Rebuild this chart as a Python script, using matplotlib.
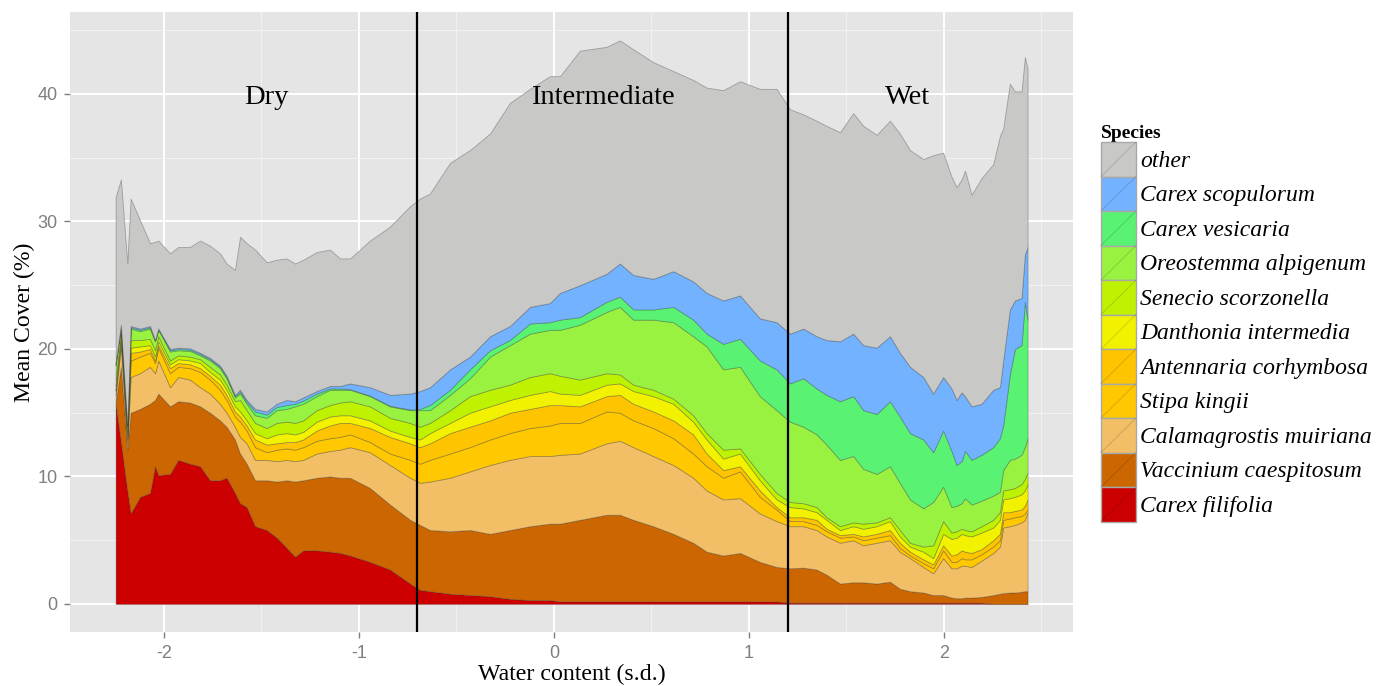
import numpy as np
import matplotlib
matplotlib.use("Agg")
import matplotlib.pyplot as plt
from matplotlib.patches import Rectangle, Patch
from matplotlib.lines import Line2D
from matplotlib.legend_handler import HandlerBase
from matplotlib.font_manager import FontProperties
from matplotlib.ticker import MultipleLocator

plt.rcParams["axes.unicode_minus"] = False

# ---------------- data ----------------
water = [-2.248, -2.221, -2.188, -2.171, -2.123, -2.072, -2.046, -2.029, -1.969, -1.927,
         -1.867, -1.815, -1.764, -1.713, -1.679, -1.636, -1.610, -1.576, -1.533, -1.473,
         -1.422, -1.371, -1.328, -1.286, -1.217, -1.149, -1.097, -1.046, -0.944, -0.841,
         -0.738, -0.687, -0.636, -0.533, -0.431, -0.328, -0.226, -0.123, -0.021, 0.031,
         0.133, 0.270, 0.338, 0.407, 0.509, 0.612, 0.714, 0.783, 0.868, 0.954,
         1.056, 1.142, 1.210, 1.279, 1.347, 1.398, 1.467, 1.535, 1.586, 1.655,
         1.723, 1.774, 1.826, 1.894, 1.945, 1.996, 2.039, 2.065, 2.091, 2.108,
         2.142, 2.193, 2.253, 2.287, 2.304, 2.338, 2.364, 2.398, 2.415, 2.429]

carex_filifolia = [15.7, 12.7, 8.9, 7.1, 8.4, 8.7, 10.8, 10.1, 10.2, 11.3,
                   11.0, 10.8, 9.7, 9.7, 9.9, 8.7, 7.9, 7.6, 6.1, 5.8,
                   5.2, 4.4, 3.7, 4.2, 4.2, 4.1, 4.0, 3.8, 3.3, 2.7,
                   1.6, 1.1, 1.0, 0.8, 0.7, 0.6, 0.4, 0.3, 0.3, 0.2,
                   0.2, 0.2, 0.2, 0.2, 0.2, 0.2, 0.2, 0.2, 0.2, 0.2,
                   0.2, 0.2, 0.1, 0.1, 0.1, 0.1, 0.1, 0.1, 0.1, 0.1,
                   0.1, 0.1, 0.1, 0.1, 0.1, 0.1, 0.1, 0.1, 0.1, 0.1,
                   0.1, 0.1, 0.0, 0.0, 0.0, 0.0, 0.0, 0.0, 0.0, 0.0]

vaccinium_caespitosum = [0.1, 5.9, 3.2, 7.9, 6.9, 7.0, 5.2, 6.4, 5.3, 4.6,
                         4.8, 4.7, 5.3, 4.7, 4.0, 4.2, 3.9, 3.4, 3.6, 3.9,
                         4.4, 5.3, 5.9, 5.5, 5.7, 5.9, 5.9, 6.1, 5.8, 5.1,
                         5.0, 5.1, 4.8, 4.9, 5.1, 4.9, 5.4, 5.8, 6.0, 6.1,
                         6.4, 6.8, 6.8, 6.4, 5.9, 5.3, 4.6, 3.9, 3.6, 3.8,
                         3.1, 2.7, 2.7, 2.75, 2.6, 2.2, 1.5, 1.6, 1.6, 1.5,
                         1.65, 1.1, 0.9, 0.8, 0.6, 0.6, 0.4, 0.35, 0.35, 0.4,
                         0.4, 0.45, 0.7, 0.8, 0.85, 0.9, 0.9, 0.95, 1.0, 1.0]

calamagrostis_muiriana = [0.6, 1.6, 0.5, 2.8, 2.8, 2.9, 2.1, 2.6, 1.5, 1.9,
                          1.8, 1.5, 1.5, 1.3, 1.1, 1.0, 1.3, 1.6, 1.6, 1.6,
                          1.6, 1.6, 1.6, 1.6, 1.9, 2.0, 2.2, 2.4, 2.8, 3.1,
                          3.3, 3.3, 3.8, 4.2, 4.6, 5.4, 5.5, 5.5, 5.3, 5.4,
                          5.2, 5.6, 5.8, 5.7, 5.5, 5.4, 5.1, 4.8, 4.4, 4.3,
                          3.8, 3.6, 3.3, 3.25, 3.1, 3.0, 3.2, 3.3, 2.9, 3.2,
                          3.25, 2.9, 2.6, 2.0, 1.7, 2.9, 2.3, 2.35, 2.55, 2.5,
                          2.4, 2.85, 3.3, 3.7, 5.15, 5.2, 5.3, 5.45, 5.6, 6.2]

stipa_kingii = [0.3, 0.5, 0.3, 1.3, 1.3, 1.1, 0.8, 1.0, 1.1, 0.8,
                0.9, 1.2, 1.1, 1.1, 1.0, 0.8, 1.2, 1.0, 1.0, 0.6,
                0.9, 0.9, 0.9, 1.0, 1.0, 1.0, 1.0, 1.0, 0.8, 0.9,
                1.4, 1.5, 1.7, 1.9, 1.9, 2.0, 2.1, 2.2, 2.4, 2.5,
                2.4, 2.5, 2.2, 2.1, 2.2, 2.1, 1.9, 1.9, 1.7, 2.1,
                1.3, 0.9, 0.4, 0.4, 0.4, 0.4, 0.4, 0.3, 0.4, 0.4,
                0.4, 0.3, 0.2, 0.3, 0.4, 0.6, 0.5, 0.5, 0.6, 0.5,
                0.6, 0.5, 0.5, 0.5, 0.6, 0.6, 0.6, 0.5, 0.5, 0.2]

antennaria_corhymbosa = [0.1, 0.3, 0.2, 0.6, 0.4, 0.3, 0.2, 0.2, 0.4, 0.3,
                         0.3, 0.3, 0.3, 0.4, 0.4, 0.4, 0.4, 0.4, 0.6, 0.6,
                         0.5, 0.5, 0.6, 0.6, 0.8, 1.0, 1.1, 0.9, 1.1, 1.3,
                         1.3, 1.3, 1.3, 1.6, 1.6, 1.5, 1.6, 1.5, 1.6, 1.4,
                         1.3, 1.2, 1.4, 1.3, 1.3, 1.4, 1.5, 1.0, 0.6, 0.4,
                         0.5, 0.2, 0.3, 0.3, 0.4, 0.2, 0.2, 0.2, 0.3, 0.3,
                         0.4, 0.4, 0.3, 0.3, 0.3, 0.4, 0.5, 0.6, 0.6, 0.6,
                         0.5, 0.4, 0.5, 0.5, 0.6, 0.5, 0.5, 0.5, 0.6, 0.8]

danthonia_intermedia = [0.3, 0.2, 0.2, 0.4, 0.4, 0.3, 0.3, 0.3, 0.3, 0.3,
                        0.3, 0.4, 0.3, 0.4, 0.4, 0.4, 0.4, 0.4, 0.5, 0.5,
                        0.7, 0.7, 0.6, 0.6, 0.7, 0.7, 0.6, 0.6, 0.6, 0.5,
                        0.5, 0.6, 0.8, 0.8, 1.1, 1.1, 1.0, 1.1, 1.1, 0.9,
                        0.9, 0.9, 0.9, 1.0, 1.2, 1.3, 1.0, 1.1, 0.9, 1.0,
                        0.8, 0.6, 0.8, 0.7, 0.6, 0.7, 0.4, 0.6, 0.6, 0.6,
                        0.7, 0.5, 0.4, 0.6, 0.5, 0.9, 1.3, 1.3, 1.3, 1.3,
                        1.3, 1.3, 1.0, 1.1, 1.0, 1.1, 1.1, 1.2, 1.2, 1.2]

senecio_scorzonella = [0.5, 0.3, 0.2, 0.6, 0.5, 0.5, 0.5, 0.4, 0.3, 0.3,
                       0.3, 0.3, 0.4, 0.4, 0.4, 0.4, 0.9, 0.8, 0.8, 0.8,
                       0.9, 0.9, 0.9, 0.9, 0.9, 0.9, 1.0, 1.1, 1.1, 1.0,
                       1.1, 1.0, 0.8, 1.0, 1.3, 1.3, 1.2, 1.4, 1.4, 1.4,
                       1.2, 0.9, 0.7, 0.5, 0.5, 0.4, 0.5, 0.5, 0.7, 0.4,
                       0.5, 0.5, 0.4, 0.4, 0.4, 0.2, 0.3, 0.3, 0.4, 0.3,
                       0.3, 0.5, 0.3, 0.4, 1.0, 1.0, 0.5, 0.5, 0.4, 0.4,
                       0.4, 0.5, 0.6, 0.6, 0.7, 0.7, 0.7, 0.8, 0.9, 0.9]

oreostemma_alpigenum = [1.1, 0.3, 0.4, 0.9, 0.7, 0.8, 0.7, 0.5, 0.7, 0.4,
                        0.45, 0.3, 0.5, 0.5, 0.5, 0.3, 0.5, 0.5, 0.6, 0.8,
                        1.0, 1.0, 1.3, 1.3, 1.1, 1.2, 1.0, 0.9, 0.8, 0.9,
                        1.0, 1.3, 1.0, 1.2, 1.4, 2.6, 3.1, 3.4, 3.4, 3.6,
                        4.3, 4.8, 5.3, 5.1, 5.5, 6.0, 6.2, 6.8, 6.3, 6.4,
                        6.1, 6.5, 6.3, 6.0, 5.7, 5.7, 5.2, 5.2, 4.3, 3.8,
                        4.0, 3.7, 3.4, 3.0, 3.4, 2.7, 2.0, 2.0, 2.0, 2.5,
                        2.1, 2.0, 1.9, 1.6, 1.6, 2.3, 2.3, 2.3, 2.5, 2.7]

carex_vesicaria = [0.1, 0.05, 0.1, 0.1, 0.1, 0.1, 0.05, 0.05, 0.1, 0.1,
                   0.1, 0.1, 0.1, 0.1, 0.1, 0.1, 0.15, 0.15, 0.3, 0.25,
                   0.25, 0.3, 0.2, 0.25, 0.2, 0.1, 0.1, 0.05, 0.05, 0.05,
                   0.05, 0.1, 0.4, 0.4, 0.7, 0.5, 0.4, 0.8, 0.6, 0.8,
                   0.6, 0.8, 0.8, 0.8, 0.8, 1.2, 1.3, 1.0, 2.0, 2.2,
                   2.8, 3.2, 3.0, 3.8, 3.6, 3.9, 4.6, 4.7, 4.6, 4.7,
                   5.1, 5.2, 5.2, 5.4, 3.9, 4.4, 4.4, 3.2, 3.3, 3.7,
                   3.5, 3.6, 3.8, 4.2, 3.5, 6.7, 8.6, 8.6, 11.4, 9.3]

carex_scopulorum = [0.1, 0.05, 0.05, 0.1, 0.1, 0.1, 0.05, 0.05, 0.1, 0.1,
                    0.1, 0.1, 0.1, 0.1, 0.1, 0.1, 0.15, 0.15, 0.2, 0.25,
                    0.25, 0.4, 0.2, 0.25, 0.2, 0.2, 0.2, 0.45, 0.65, 0.85,
                    1.25, 1.4, 1.4, 1.6, 1.0, 1.1, 1.1, 1.3, 1.5, 2.1,
                    2.5, 2.2, 2.6, 2.7, 2.4, 2.8, 3.0, 3.2, 3.4, 3.4,
                    3.3, 3.7, 3.9, 3.9, 4.1, 4.3, 4.7, 4.9, 5.1, 5.2,
                    5.1, 5.0, 5.2, 4.9, 4.6, 4.2, 4.9, 5.1, 5.4, 4.3,
                    4.2, 4.0, 4.5, 4.0, 5.1, 5.1, 3.8, 3.7, 3.7, 5.7]

other = [13.0, 11.4, 12.65, 10.0, 8.5, 6.5, 7.7, 6.9, 7.5, 7.9,
         7.95, 8.8, 8.8, 8.8, 8.8, 9.8, 12.0, 12.3, 12.5, 11.7,
         11.3, 11.1, 10.8, 10.8, 10.9, 10.7, 10.0, 9.8, 11.5, 13.2,
         14.7, 15.1, 15.2, 16.2, 16.2, 15.9, 17.5, 17.1, 17.8, 17.0,
         18.4, 17.8, 17.5, 17.7, 17.0, 15.7, 15.8, 16.1, 16.5, 16.8,
         18.0, 18.3, 17.6, 16.8, 16.9, 16.8, 16.4, 17.3, 17.2, 16.7,
         16.9, 17.2, 17.0, 17.1, 18.7, 17.6, 16.6, 16.7, 16.7, 17.7,
         16.6, 17.7, 17.7, 19.7, 18.2, 17.7, 16.4, 16.2, 15.5, 14.0]

species = ["Carex filifolia", "Vaccinium caespitosum", "Calamagrostis muiriana",
           "Stipa kingii", "Antennaria corhymbosa", "Danthonia intermedia",
           "Senecio scorzonella", "Oreostemma alpigenum", "Carex vesicaria",
           "Carex scopulorum", "other"]
series = [carex_filifolia, vaccinium_caespitosum, calamagrostis_muiriana,
          stipa_kingii, antennaria_corhymbosa, danthonia_intermedia,
          senecio_scorzonella, oreostemma_alpigenum, carex_vesicaria,
          carex_scopulorum, other]
colors = ["#CC0000", "#CC6600", "#F2BF66", "#FFC800", "#FFC400", "#F2F200",
          "#BFF200", "#99F240", "#59F273", "#73B2FF", "#C8C9C6"]

zone_bounds = [-0.70, 1.20]
zone_labels = ["Dry", "Intermediate", "Wet"]
zone_label_x = [-1.477, 0.249, 1.815]
zone_label_y = 39.7

# ---------------- figure ----------------
W, H = 1390, 686
fig = plt.figure(figsize=(W / 100, H / 100), dpi=100, facecolor="white")
ax = fig.add_axes([70 / W, (H - 632) / H, 1003 / W, 620 / H])
ax.set_facecolor("#E5E5E5")

ax.stackplot(water, *series, colors=colors, labels=species,
             edgecolor=(0.2, 0.2, 0.2, 0.35), linewidth=0.6, zorder=2)

for xb in zone_bounds:
    ax.axvline(xb, color="black", lw=1.6, zorder=4)

serif = "Liberation Serif"
for lab, lx in zip(zone_labels, zone_label_x):
    ax.text(lx, zone_label_y, lab, ha="center", va="center",
            family=serif, fontsize=20.5, color="black", zorder=5)

ax.set_xlim(-2.482, 2.662)
ax.set_ylim(-2.2, 46.43)
ax.xaxis.set_major_locator(MultipleLocator(1))
ax.xaxis.set_minor_locator(MultipleLocator(0.5))
ax.yaxis.set_major_locator(MultipleLocator(10))
ax.yaxis.set_minor_locator(MultipleLocator(5))
ax.grid(which="major", color="white", lw=1.4, zorder=0)
ax.grid(which="minor", color="#F2F2F2", lw=0.7, zorder=0)
ax.set_axisbelow(True)
for s in ax.spines.values():
    s.set_visible(False)

tickfont = ["Liberation Sans Narrow", "Liberation Sans"]
ax.tick_params(which="major", length=4, width=1, color="#7F7F7F",
               labelcolor="#7F7F7F", labelsize=13, pad=5)
ax.tick_params(which="minor", length=0)
for lbl in ax.get_xticklabels() + ax.get_yticklabels():
    lbl.set_family(tickfont)

ax.set_xlabel("Water content (s.d.)", family=serif, fontsize=17.2, labelpad=2)
ax.set_ylabel("Mean Cover (%)", family=serif, fontsize=17.1, labelpad=2)


class KeyHandler(HandlerBase):
    def create_artists(self, legend, orig_handle, xdescent, ydescent,
                       width, height, fontsize, trans):
        r = Rectangle((-xdescent, -ydescent), width, height,
                      facecolor=orig_handle.get_facecolor(),
                      edgecolor="#A8A8A8", lw=1.0, transform=trans)
        ln = Line2D([-xdescent, -xdescent + width], [-ydescent, -ydescent + height],
                    color=(0, 0, 0, 0.15), lw=0.7, transform=trans)
        return [r, ln]


handles = [Patch(facecolor=c) for c in colors][::-1]
labels = species[::-1]
fs = 17.0
px_per_em = fs * 100 / 72
key_h_em = 34.5 / px_per_em
leg = fig.legend(handles, labels, loc="upper left",
                 bbox_to_anchor=(1101 / W, 1 - 125 / H),
                 frameon=False, title="Species",
                 prop=FontProperties(family=serif, style="italic", size=fs),
                 title_fontproperties=FontProperties(family=serif, weight="bold", size=14),
                 handler_map={Patch: KeyHandler()},
                 handlelength=35 / px_per_em,
                 handleheight=(key_h_em - 0.245) / 0.65,
                 labelspacing=0.0, handletextpad=0.17, borderpad=0.0,
                 borderaxespad=0.0, alignment="left")

fig.savefig("out.png", dpi=100, facecolor="white")
